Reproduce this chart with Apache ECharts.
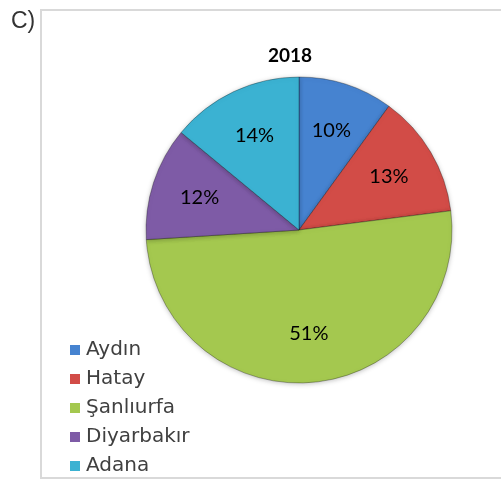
<!DOCTYPE html>
<html>
<head>
<meta charset="utf-8">
<script src="https://cdn.jsdelivr.net/npm/echarts@6/dist/echarts.min.js"></script>
<style>
  html, body { margin: 0; padding: 0; background: #fff; }
  #chart { width: 501px; height: 481px; }
</style>
</head>
<body>
<div id="chart"></div>
<script>
// veriler
var cities = ['Aydın', 'Hatay', 'Şanlıurfa', 'Diyarbakır', 'Adana']
var shares = [10, 13, 51, 12, 14]
var colors = ['#4683d0', '#d24c47', '#a4c84f', '#7e5ba6', '#3bb2d2']
var chartTitle = '2018'
var panelLabel = 'C)'

var myChart = echarts.init(document.getElementById('chart'))

var option = {
  animation: false,
  color: colors,
  title: [{
    text: chartTitle,
    left: 285,
    top: 41,
    textAlign: 'center',
    textStyle: { fontFamily: 'Lato', fontWeight: 'bold', fontSize: 19, color: '#000' }
  }, {
    text: panelLabel,
    left: 6,
    top: 5,
    textStyle: { fontFamily: 'Liberation Sans', fontWeight: 'normal', fontSize: 23, color: '#333' }
  }],
  graphic: [{
    type: 'rect',
    shape: { x: 41, y: 10, width: 470, height: 468 },
    style: { fill: 'none', stroke: '#d9d9d9', lineWidth: 2 },
    silent: true
  }],
  legend: {
    orient: 'vertical',
    left: 70,
    top: 339,
    height: 200,
    padding: 0,
    icon: 'rect',
    itemWidth: 10,
    itemHeight: 10,
    itemGap: 7,
    itemStyle: { borderWidth: 0 },
    data: cities,
    textStyle: { fontFamily: 'DejaVu Sans', fontSize: 20, lineHeight: 22, color: '#404040', padding: [0, 0, 0, 1] }
  },
  series: [{
    type: 'pie',
    center: [299, 230],
    radius: [0, 153],
    startAngle: 90,
    clockwise: true,
    data: cities.map(function (name, i) { return { name: name, value: shares[i] } }),
    itemStyle: {
      borderColor: 'rgba(0,0,0,0.3)',
      borderWidth: 1,
      shadowBlur: 5,
      shadowColor: 'rgba(0,0,0,0.25)',
      shadowOffsetY: 1
    },
    label: { show: false },
    labelLine: { show: false },
    emphasis: { disabled: true }
  }, {
    // etiketler için şeffaf katman
    type: 'pie',
    center: [299, 230],
    radius: [50, 153],
    startAngle: 90,
    clockwise: true,
    silent: true,
    data: cities.map(function (name, i) { return { name: name, value: shares[i] } }),
    itemStyle: { color: 'rgba(0,0,0,0)' },
    label: {
      show: true,
      position: 'inside',
      formatter: '{c}%',
      fontFamily: 'Lato',
      fontSize: 20,
      color: '#000'
    },
    labelLine: { show: false },
    emphasis: { disabled: true }
  }]
}
myChart.setOption(option)
</script>
</body>
</html>
